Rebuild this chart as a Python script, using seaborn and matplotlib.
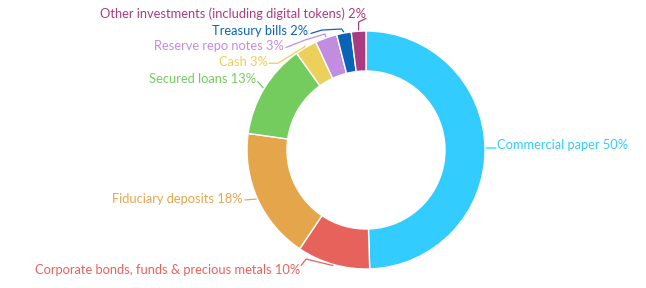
import numpy as np
import matplotlib
matplotlib.use("Agg")
import matplotlib.pyplot as plt
import seaborn as sns

# Reserve composition (percent of total)
categories = [
    "Commercial paper",
    "Corporate bonds, funds & precious metals",
    "Fiduciary deposits",
    "Secured loans",
    "Cash",
    "Reserve repo notes",
    "Treasury bills",
    "Other investments (including digital tokens)",
]
shares = [50, 10, 18, 13, 3, 3, 2, 2]
colors = ["#33CCFF", "#E8625C", "#E5A64B", "#73CC5D",
          "#ECD05B", "#C28CE0", "#0B63B8", "#AA3B80"]

sns.set_theme(style="white")
plt.rcParams["font.family"] = ["Lato", "DejaVu Sans"]

W, H = 646, 288
fig = plt.figure(figsize=(W / 100, H / 100), dpi=100)
ax = fig.add_axes([0, 0, 1, 1])

R = 1.0
ring = 0.336
ax.pie(shares, colors=colors, radius=R, startangle=90, counterclock=False,
       wedgeprops=dict(width=ring, edgecolor="white", linewidth=1.0),
       center=(0, 0))

# axis window: donut centred at ~(366,150) px with outer radius ~119 px
unit = 119.0
cx, cy = 366.0, 150.0
ax.set_xlim(-cx / unit, (W - cx) / unit)
ax.set_ylim((cy - H) / unit, cy / unit)
ax.set_aspect("equal")
ax.axis("off")

# label placement: text anchor, alignment, and bend points of each leader line
label_layout = [
    dict(xy=(1.101, 0.045), ha="left",  knees=[], end=(1.092, 0.017)),
    dict(xy=(-0.553, -1.012), ha="right", knees=[(-0.504, -0.916)], end=(-0.546, -0.972)),
    dict(xy=(-1.034, -0.410), ha="right", knees=[], end=(-1.017, -0.420)),
    dict(xy=(-0.924, 0.597), ha="right", knees=[], end=(-0.910, 0.575)),
    dict(xy=(-0.824, 0.739), ha="right", knees=[(-0.739, 0.729)], end=(-0.815, 0.729)),
    dict(xy=(-0.689, 0.874), ha="right", knees=[(-0.345, 0.975), (-0.513, 0.924)], end=(-0.672, 0.862)),
    dict(xy=(-0.487, 1.000), ha="right", knees=[(-0.205, 1.017), (-0.370, 1.008)], end=(-0.462, 0.980)),
    dict(xy=(0.000, 1.143), ha="right", knees=[(-0.062, 1.076)], end=(0.000, 1.105)),
]

total = float(sum(shares))
cum = 0.0
for name, val, col, lay in zip(categories, shares, colors, label_layout):
    mid = (cum + val / 2.0) / total * 2 * np.pi  # clockwise from 12 o'clock
    cum += val
    ax0 = (R + 0.01) * np.sin(mid)
    ay0 = (R + 0.01) * np.cos(mid)
    pts = [(ax0, ay0)] + lay["knees"] + [lay["end"]]
    xs, ys = zip(*pts)
    ax.plot(xs, ys, color=col, lw=0.9, solid_capstyle="round", zorder=3)
    ax.text(lay["xy"][0], lay["xy"][1], f"{name} {val}%", color=col,
            ha=lay["ha"], va="center", fontsize=9.25)

fig.savefig("out.png", dpi=100, facecolor="white")
